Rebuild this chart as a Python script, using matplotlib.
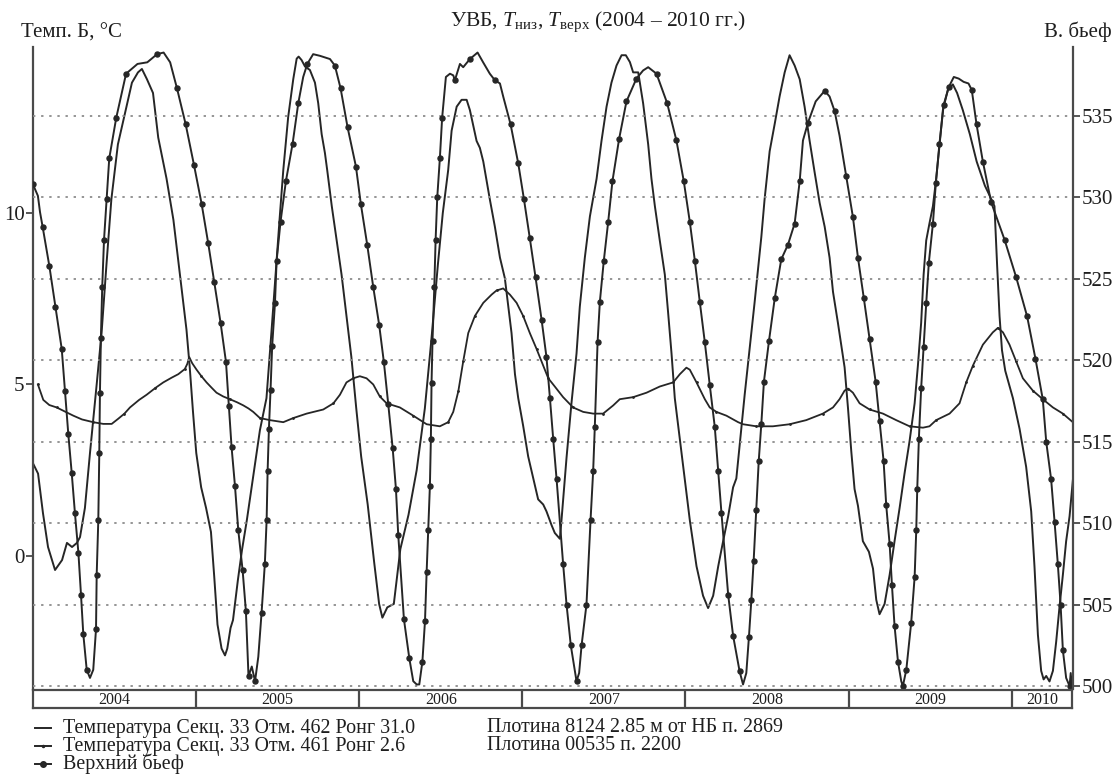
import numpy
import matplotlib
matplotlib.use('Agg')
import matplotlib.pyplot as plt
from matplotlib.lines import Line2D

# upper pool level (m), right axis
level_year = [2004.000, 2004.030, 2004.043, 2004.059, 2004.100, 2004.137, 2004.176, 2004.196, 2004.216, 2004.237,
              2004.257, 2004.278, 2004.294, 2004.308, 2004.329, 2004.349, 2004.369, 2004.386, 2004.390, 2004.400,
              2004.406, 2004.410, 2004.416, 2004.424, 2004.435, 2004.451, 2004.467, 2004.510, 2004.570, 2004.640,
              2004.700, 2004.760, 2004.800, 2004.840, 2004.882, 2004.935, 2004.986, 2005.033, 2005.073, 2005.110,
              2005.149, 2005.182, 2005.200, 2005.216, 2005.237, 2005.257, 2005.284, 2005.304, 2005.320, 2005.340,
              2005.360, 2005.380, 2005.400, 2005.420, 2005.431, 2005.437, 2005.445, 2005.455, 2005.465, 2005.482,
              2005.492, 2005.516, 2005.549, 2005.590, 2005.625, 2005.655, 2005.680, 2005.716, 2005.757, 2005.819,
              2005.849, 2005.884, 2005.927, 2005.978, 2006.008, 2006.047, 2006.084, 2006.120, 2006.149, 2006.176,
              2006.203, 2006.223, 2006.237, 2006.272, 2006.305, 2006.329, 2006.350, 2006.366, 2006.385, 2006.401,
              2006.411, 2006.421, 2006.431, 2006.437, 2006.441, 2006.447, 2006.458, 2006.466, 2006.476, 2006.492,
              2006.506, 2006.529, 2006.554, 2006.574, 2006.584, 2006.615, 2006.635, 2006.676, 2006.723, 2006.757,
              2006.798, 2006.829, 2006.860, 2006.880, 2006.925, 2006.972, 2007.007, 2007.043, 2007.078, 2007.115,
              2007.145, 2007.166, 2007.186, 2007.207, 2007.247, 2007.268, 2007.294, 2007.329, 2007.345, 2007.360,
              2007.390, 2007.415, 2007.431, 2007.441, 2007.458, 2007.472, 2007.496, 2007.523, 2007.549, 2007.590,
              2007.635, 2007.696, 2007.737, 2007.768, 2007.819, 2007.884, 2007.941, 2007.986, 2008.023, 2008.054,
              2008.084, 2008.115, 2008.145, 2008.176, 2008.197, 2008.217, 2008.258, 2008.288, 2008.328, 2008.349,
              2008.369, 2008.385, 2008.400, 2008.414, 2008.430, 2008.445, 2008.461, 2008.477, 2008.508, 2008.543,
              2008.583, 2008.624, 2008.665, 2008.696, 2008.716, 2008.747, 2008.794, 2008.849, 2008.879, 2008.910,
              2008.940, 2008.981, 2009.022, 2009.053, 2009.089, 2009.124, 2009.161, 2009.185, 2009.210, 2009.226,
              2009.247, 2009.261, 2009.277, 2009.298, 2009.318, 2009.328, 2009.349, 2009.379, 2009.400, 2009.410,
              2009.416, 2009.426, 2009.440, 2009.455, 2009.471, 2009.487, 2009.512, 2009.530, 2009.552, 2009.578,
              2009.610, 2009.640, 2009.670, 2009.700, 2009.730, 2009.750, 2009.779, 2009.818, 2009.869, 2009.951,
              2010.022, 2010.089, 2010.140, 2010.185, 2010.206, 2010.236, 2010.257, 2010.277, 2010.294, 2010.308,
              2010.328, 2010.349, 2010.356, 2010.362, 2010.369]
level_m = [530.8, 530.1, 529.1, 528.2, 525.8, 523.3, 520.7, 518.1, 515.5, 513.1,
           510.6, 508.2, 505.6, 503.2, 501.0, 500.5, 501.0, 503.5, 506.8, 510.2,
           514.3, 518.0, 521.4, 524.5, 527.4, 529.9, 532.4, 534.9, 537.6, 538.2,
           538.3, 538.8, 538.9, 538.3, 536.7, 534.5, 532.0, 529.6, 527.2, 524.8,
           522.3, 519.9, 517.2, 514.7, 512.3, 509.6, 507.1, 504.6, 500.6, 501.2,
           500.3, 501.8, 504.5, 507.5, 510.2, 513.2, 515.8, 518.2, 520.9, 523.5,
           526.1, 528.5, 531.0, 533.3, 535.8, 537.4, 538.2, 538.8, 538.7, 538.5,
           538.1, 536.7, 534.3, 531.9, 529.6, 527.1, 524.5, 522.2, 519.9, 517.3,
           514.6, 512.1, 509.3, 504.1, 501.7, 500.3, 500.1, 500.1, 501.5, 504.0,
           507.0, 509.6, 512.3, 515.2, 518.6, 521.2, 524.5, 527.4, 530.0, 532.4,
           534.9, 537.4, 537.6, 537.5, 537.2, 538.2, 538.0, 538.5, 538.9, 538.3,
           537.6, 537.2, 537.0, 536.2, 534.5, 532.1, 529.9, 527.5, 525.1, 522.5,
           520.2, 517.7, 515.2, 512.7, 507.5, 505.0, 502.5, 500.3, 500.8, 502.5,
           505.0, 510.2, 513.2, 515.9, 521.1, 523.6, 526.1, 528.5, 531.0, 533.6,
           535.9, 537.3, 537.8, 538.0, 537.6, 535.8, 533.5, 531.0, 528.5, 526.1,
           523.6, 521.1, 518.5, 515.9, 513.2, 510.6, 505.6, 503.1, 500.9, 500.1,
           500.8, 503.0, 505.3, 507.7, 510.8, 513.8, 516.1, 518.7, 521.2, 523.8,
           526.2, 527.1, 528.4, 531.0, 533.5, 534.6, 535.9, 536.55, 536.2, 535.3,
           533.8, 531.3, 528.8, 526.3, 523.8, 521.3, 518.7, 516.3, 513.8, 511.1,
           508.7, 506.2, 503.7, 501.5, 500.3, 500.0, 501.0, 503.9, 506.7, 509.6,
           512.1, 515.2, 518.3, 520.8, 523.5, 526.0, 528.4, 530.9, 533.3, 535.7,
           536.8, 537.4, 537.3, 537.1, 537.0, 536.6, 534.5, 532.2, 529.7, 527.4,
           525.1, 522.7, 520.1, 517.6, 515.0, 512.7, 510.1, 507.5, 505.0, 502.2,
           500.5, 500.0, 500.8, 500.1, 500.3]

# temperature, Отм. 462 (large swing), left axis
t462_year = [2004.000, 2004.031, 2004.061, 2004.092, 2004.135, 2004.178, 2004.208, 2004.239, 2004.269, 2004.288,
             2004.318, 2004.349, 2004.390, 2004.420, 2004.450, 2004.480, 2004.520, 2004.563, 2004.606, 2004.643,
             2004.667, 2004.698, 2004.735, 2004.767, 2004.818, 2004.860, 2004.900, 2004.940, 2004.960, 2004.980,
             2005.000, 2005.030, 2005.060, 2005.090, 2005.110, 2005.130, 2005.155, 2005.176, 2005.190, 2005.210,
             2005.225, 2005.255, 2005.280, 2005.310, 2005.360, 2005.390, 2005.430, 2005.460, 2005.490, 2005.510,
             2005.533, 2005.563, 2005.594, 2005.615, 2005.627, 2005.645, 2005.666, 2005.696, 2005.727, 2005.747,
             2005.768, 2005.788, 2005.802, 2005.830, 2005.860, 2005.890, 2005.920, 2005.950, 2005.980, 2006.010,
             2006.050, 2006.090, 2006.120, 2006.140, 2006.170, 2006.210, 2006.230, 2006.250, 2006.300, 2006.350,
             2006.400, 2006.440, 2006.480, 2006.510, 2006.543, 2006.564, 2006.595, 2006.625, 2006.656, 2006.676,
             2006.717, 2006.737, 2006.758, 2006.798, 2006.829, 2006.860, 2006.890, 2006.931, 2006.952, 2006.972,
             2007.002, 2007.033, 2007.064, 2007.094, 2007.125, 2007.145, 2007.176, 2007.196, 2007.227, 2007.237,
             2007.268, 2007.298, 2007.329, 2007.349, 2007.380, 2007.411, 2007.452, 2007.482, 2007.513, 2007.543,
             2007.574, 2007.605, 2007.631, 2007.656, 2007.676, 2007.707, 2007.737, 2007.768, 2007.788, 2007.809,
             2007.839, 2007.870, 2007.890, 2007.911, 2007.931, 2007.962, 2007.992, 2008.023, 2008.064, 2008.104,
             2008.135, 2008.166, 2008.197, 2008.227, 2008.258, 2008.288, 2008.308, 2008.359, 2008.420, 2008.461,
             2008.481, 2008.512, 2008.543, 2008.573, 2008.604, 2008.634, 2008.665, 2008.696, 2008.726, 2008.757,
             2008.787, 2008.818, 2008.849, 2008.879, 2008.900, 2008.930, 2008.971, 2008.992, 2009.012, 2009.032,
             2009.053, 2009.083, 2009.120, 2009.145, 2009.165, 2009.185, 2009.216, 2009.247, 2009.277, 2009.308,
             2009.338, 2009.369, 2009.400, 2009.420, 2009.440, 2009.455, 2009.471, 2009.491, 2009.512, 2009.532,
             2009.553, 2009.573, 2009.604, 2009.634, 2009.660, 2009.695, 2009.738, 2009.780, 2009.830, 2009.860,
             2009.889, 2009.905, 2009.920, 2009.935, 2009.955, 2010.002, 2010.043, 2010.083, 2010.114, 2010.134,
             2010.155, 2010.175, 2010.190, 2010.206, 2010.226, 2010.247, 2010.267, 2010.287, 2010.308, 2010.328,
             2010.349, 2010.369]
t462_c = [2.7, 2.4, 1.25, 0.26, -0.41, -0.12, 0.38, 0.26, 0.38, 0.55,
          1.4, 3.0, 5.0, 6.5, 8.5, 10.4, 12.0, 12.9, 13.8, 14.1,
          14.2, 13.9, 13.5, 12.2, 11.0, 9.8, 8.2, 6.6, 5.5, 4.2,
          3.0, 2.0, 1.4, 0.7, -0.6, -2.0, -2.7, -2.9, -2.7, -2.1,
          -1.87, -0.7, 0.17, 1.05, 2.7, 3.67, 4.6, 6.5, 8.5, 9.8,
          11.25, 12.8, 13.9, 14.5, 14.56, 14.46, 14.27, 14.17, 13.8, 13.2,
          12.3, 11.75, 11.25, 10.2, 9.2, 8.2, 7.0, 5.8, 4.3, 2.9,
          1.5, -0.2, -1.4, -1.8, -1.5, -1.4, -0.6, 0.2, 1.2, 2.5,
          4.3, 6.3, 8.5, 10.0, 11.25, 12.4, 13.1, 13.3, 13.3, 13.0,
          12.1, 11.9, 11.5, 10.4, 9.6, 8.7, 8.1, 6.5, 5.3, 4.6,
          3.8, 2.9, 2.26, 1.65, 1.5, 1.3, 0.9, 0.67, 0.5, 1.04,
          2.87, 4.45, 5.9, 7.26, 8.7, 9.9, 11.0, 12.1, 13.1, 13.8,
          14.3, 14.6, 14.6, 14.4, 14.1, 14.1, 13.2, 12.0, 11.0, 10.2,
          9.2, 8.2, 7.1, 5.9, 4.6, 3.4, 2.26, 1.04, -0.3, -1.16,
          -1.52, -1.16, -0.3, 0.43, 1.16, 2.0, 2.26, 4.7, 7.4, 9.3,
          10.4, 11.8, 12.6, 13.4, 14.1, 14.6, 14.3, 13.9, 13.1, 12.1,
          11.2, 10.3, 9.6, 8.7, 7.7, 6.8, 5.5, 4.3, 3.05, 1.95,
          1.46, 0.43, 0.12, -0.37, -1.28, -1.7, -1.4, -0.55, 0.43, 1.4,
          2.4, 3.35, 4.45, 5.55, 6.8, 8.2, 9.2, 9.7, 10.2, 11.0,
          12.0, 13.0, 13.6, 13.75, 13.5, 13.0, 12.3, 11.5, 10.8, 10.5,
          10.2, 8.5, 7.0, 6.0, 5.4, 4.6, 3.7, 2.6, 1.3, -0.3,
          -2.3, -3.35, -3.6, -3.5, -3.66, -3.35, -2.5, -1.5, -0.55, 0.43,
          1.16, 2.2]

# temperature, Отм. 461 (small swing), left axis
t461_year = [2004.030, 2004.063, 2004.100, 2004.145, 2004.200, 2004.247, 2004.300, 2004.369, 2004.430, 2004.482,
             2004.522, 2004.560, 2004.594, 2004.650, 2004.696, 2004.750, 2004.798, 2004.850, 2004.890, 2004.930,
             2004.945, 2004.957, 2004.975, 2005.002, 2005.030, 2005.063, 2005.095, 2005.124, 2005.165, 2005.206,
             2005.250, 2005.288, 2005.320, 2005.349, 2005.390, 2005.451, 2005.533, 2005.594, 2005.676, 2005.778,
             2005.840, 2005.880, 2005.920, 2005.961, 2006.002, 2006.043, 2006.084, 2006.124, 2006.166, 2006.247,
             2006.329, 2006.411, 2006.492, 2006.543, 2006.574, 2006.605, 2006.635, 2006.666, 2006.707, 2006.758,
             2006.809, 2006.839, 2006.880, 2006.921, 2006.962, 2007.002, 2007.043, 2007.084, 2007.125, 2007.156,
             2007.196, 2007.247, 2007.308, 2007.370, 2007.431, 2007.492, 2007.554, 2007.594, 2007.676, 2007.758,
             2007.839, 2007.921, 2007.962, 2008.002, 2008.023, 2008.064, 2008.115, 2008.145, 2008.186, 2008.247,
             2008.319, 2008.349, 2008.430, 2008.532, 2008.634, 2008.736, 2008.838, 2008.900, 2008.940, 2008.971,
             2008.992, 2009.022, 2009.063, 2009.124, 2009.206, 2009.287, 2009.369, 2009.451, 2009.491, 2009.532,
             2009.614, 2009.675, 2009.716, 2009.757, 2009.818, 2009.879, 2009.910, 2009.941, 2009.981, 2010.022,
             2010.063, 2010.124, 2010.185, 2010.247, 2010.308, 2010.369]
t461_c = [5.0, 4.55, 4.4, 4.33, 4.2, 4.09, 3.98, 3.9, 3.85, 3.85,
          4.0, 4.15, 4.33, 4.55, 4.7, 4.9, 5.06, 5.2, 5.3, 5.45,
          5.6, 5.8, 5.62, 5.43, 5.25, 5.06, 4.9, 4.76, 4.65, 4.57,
          4.48, 4.39, 4.3, 4.2, 4.02, 3.96, 3.9, 4.02, 4.15, 4.27,
          4.45, 4.7, 5.06, 5.18, 5.24, 5.18, 5.0, 4.65, 4.45, 4.33,
          4.09, 3.84, 3.78, 3.9, 4.2, 4.8, 5.67, 6.5, 7.0, 7.38,
          7.62, 7.74, 7.8, 7.62, 7.38, 7.0, 6.5, 6.04, 5.55, 5.18,
          4.94, 4.63, 4.33, 4.2, 4.15, 4.15, 4.39, 4.57, 4.63, 4.76,
          4.94, 5.06, 5.3, 5.49, 5.43, 5.06, 4.57, 4.33, 4.2, 4.09,
          3.9, 3.84, 3.78, 3.78, 3.84, 3.96, 4.15, 4.33, 4.57, 4.82,
          4.88, 4.76, 4.45, 4.27, 4.15, 3.96, 3.78, 3.74, 3.78, 3.96,
          4.15, 4.45, 5.06, 5.55, 6.16, 6.52, 6.65, 6.52, 6.16, 5.67,
          5.18, 4.82, 4.57, 4.33, 4.15, 3.9]

years = [2004, 2005, 2006, 2007, 2008, 2009, 2010]
t_ticks = [0, 5, 10]
level_ticks = [500, 505, 510, 515, 520, 525, 530, 535]

legend_labels = ['Температура Секц. 33 Отм. 462 Ронг 31.0',
                 'Температура Секц. 33 Отм. 461 Ронг 2.6',
                 'Верхний бьеф']
legend_notes = ['Плотина 8124 2.85 м от НБ п. 2869',
                'Плотина 00535 п. 2200']

INK = '#262626'
FRAME = '#4a4a4a'
TEXT = '#1e1e1e'


def px(x, y):
    # pixel position in the 1115x781 picture -> figure fraction
    return x / 1115.0, 1.0 - y / 781.0


def plot_chart():
    plt.rcParams['font.family'] = ['Liberation Serif', 'DejaVu Serif']
    plt.rcParams['mathtext.fontset'] = 'custom'
    plt.rcParams['mathtext.rm'] = 'Liberation Serif'
    plt.rcParams['mathtext.it'] = 'Liberation Serif:italic'

    fig = plt.figure(figsize=(11.15, 7.81), dpi=100)
    x0, x1 = 2004.0, 2010.37

    ax = fig.add_axes([33 / 1115, 1 - 689 / 781, 1040 / 1115, 642 / 781])
    ax2 = ax.twinx()

    ax.plot(t462_year, t462_c, color=INK, lw=1.4)
    ax.plot(t461_year, t461_c, color=INK, lw=1.3, marker='.', ms=2, markevery=0.03)
    ax2.plot(level_year, level_m, color=INK, lw=1.4, marker='o', ms=3.6, markevery=0.031)

    ax.set_xlim(x0, x1)
    ax.set_ylim(-3.88, 14.84)
    ax2.set_ylim(499.82, 539.24)
    ax.set_xticks([])
    ax.set_yticks(t_ticks)
    ax2.set_yticks(level_ticks)

    ax2.yaxis.grid(True, linestyle=(0, (1.3, 3.2)), color='#8c8c8c', lw=1.3)

    for a in (ax, ax2):
        a.spines['top'].set_visible(False)
        a.spines['bottom'].set_visible(False)
        a.tick_params(axis='y', direction='out', length=5, width=1.3, colors=FRAME,
                      labelcolor=TEXT, labelsize=15, pad=1)
    ax.spines['right'].set_visible(False)
    ax2.spines['left'].set_visible(False)
    ax.spines['left'].set_color(FRAME)
    ax.spines['left'].set_linewidth(1.6)
    ax2.spines['right'].set_color(FRAME)
    ax2.spines['right'].set_linewidth(1.6)

    # year strip under the plot
    axy = fig.add_axes([33 / 1115, 1 - 708 / 781, 1039 / 1115, 18 / 781])
    axy.set_xlim(x0, x1)
    axy.set_ylim(0, 1)
    axy.set_xticks([])
    axy.set_yticks([])
    for s in axy.spines.values():
        s.set_color(FRAME)
        s.set_linewidth(1.6)
    for yr in years:
        if yr > x0:
            axy.axvline(yr, color=FRAME, lw=1.6)
        mid = (max(yr, x0) + min(yr + 1, x1)) / 2
        axy.text(mid, 0.45, str(yr), ha='center', va='center', fontsize=11.5, color=TEXT)

    # titles
    fig.text(*px(598, 22), 'УВБ, $T_{\\mathrm{низ}}$, $T_{\\mathrm{верх}}$ (2004 – 2010 гг.)',
             ha='center', va='center', fontsize=15.5, color=TEXT)
    fig.text(*px(21, 33), 'Темп. Б, °C', ha='left', va='center', fontsize=15, color=TEXT)
    fig.text(*px(1112, 32), 'В. бьеф', ha='right', va='center', fontsize=15, color=TEXT)

    # legend, drawn by hand to keep the two-column layout
    rows = [728, 746, 764]
    styles = [dict(marker=None), dict(marker='.', ms=3), dict(marker='o', ms=4)]
    for r, lab, st in zip(rows, legend_labels, styles):
        xa, ya = px(35, r)
        xb, yb = px(51, r)
        fig.add_artist(Line2D([xa, (xa + xb) / 2, xb], [ya, ya, ya], transform=fig.transFigure,
                              color=INK, lw=1.4, markevery=[1] if st['marker'] else None, **st))
        fig.text(*px(63, r), lab, ha='left', va='center', fontsize=14.4, color=TEXT)
    for r, note in zip(rows, legend_notes):
        fig.text(*px(487, r), note, ha='left', va='center', fontsize=14.4, color=TEXT)

    fig.savefig('out.png', dpi=100)


if __name__ == '__main__':
    plot_chart()
